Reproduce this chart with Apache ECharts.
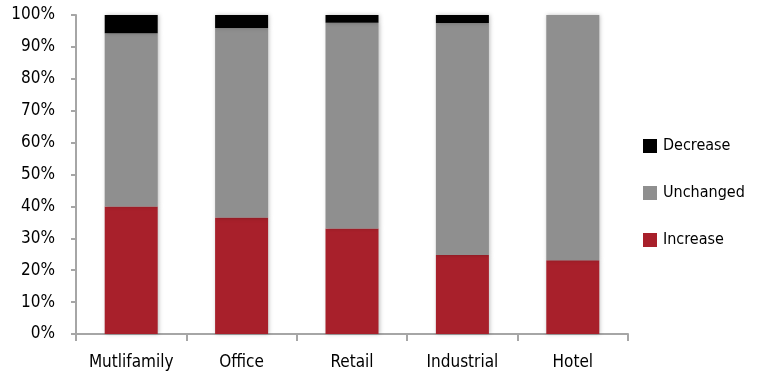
<!DOCTYPE html>
<html>
<head>
<meta charset="utf-8">
<script src="https://cdn.jsdelivr.net/npm/echarts@6/dist/echarts.min.js"></script>
<style>
  html, body { margin: 0; padding: 0; background: #fff; }
  #chart { width: 758px; height: 374px; }
</style>
</head>
<body>
<div id="chart"></div>
<script>
// Share of respondents by property type (%)
const categories = ['Mutlifamily', 'Office', 'Retail', 'Industrial', 'Hotel'];
const increase  = [40.0, 36.5, 33.1, 24.8, 23.1];
const unchanged = [54.3, 59.4, 64.5, 72.7, 76.9];
const decrease  = [5.7, 4.1, 2.4, 2.5, 0];
const yTicks = [0, 10, 20, 30, 40, 50, 60, 70, 80, 90, 100];

const FONT = '"DejaVu Sans Condensed", "DejaVu Sans", sans-serif';
const AXIS_GREY = '#a6a6a6';

const barShadow = {
  shadowBlur: 4,
  shadowColor: 'rgba(0,0,0,0.25)',
  shadowOffsetX: 1,
  shadowOffsetY: 0
};

function barSeries(name, data, color) {
  return {
    name: name,
    type: 'bar',
    stack: 'total',
    barWidth: 53,
    data: data,
    itemStyle: Object.assign({ color: color }, barShadow)
  };
}

const chart = echarts.init(document.getElementById('chart'), null, { renderer: 'canvas' });
chart.setOption({
  animation: false,
  backgroundColor: '#ffffff',
  textStyle: { fontFamily: FONT },
  grid: { left: 76, right: 130, top: 15, bottom: 40, containLabel: false },
  legend: {
    orient: 'vertical',
    left: 638,
    top: 133,
    itemWidth: 14,
    itemHeight: 14,
    itemGap: 31,
    icon: 'rect',
    data: ['Decrease', 'Unchanged', 'Increase'],
    textStyle: { fontFamily: FONT, fontSize: 16, color: '#000', padding: [0, 0, 0, 1] }
  },
  xAxis: {
    type: 'category',
    data: categories,
    axisLine: { lineStyle: { color: AXIS_GREY, width: 2 } },
    axisTick: { show: true, length: 7, alignWithLabel: false, lineStyle: { color: AXIS_GREY, width: 2 } },
    axisLabel: { color: '#000', fontFamily: FONT, fontSize: 17, margin: 20, interval: 0 }
  },
  yAxis: {
    type: 'value',
    min: 0,
    max: 100,
    interval: 10,
    splitLine: { show: false },
    axisLine: { show: true, lineStyle: { color: AXIS_GREY, width: 2 } },
    axisTick: { show: true, length: 5, lineStyle: { color: AXIS_GREY, width: 2 } },
    axisLabel: {
      color: '#000',
      fontFamily: FONT,
      fontSize: 17,
      margin: 21,
      formatter: function (v) { return yTicks.indexOf(v) >= 0 ? v + '%' : ''; }
    }
  },
  series: [
    barSeries('Increase', increase, '#a8202b'),
    barSeries('Unchanged', unchanged, '#8f8f8f'),
    barSeries('Decrease', decrease, '#000000')
  ]
});
</script>
</body>
</html>
